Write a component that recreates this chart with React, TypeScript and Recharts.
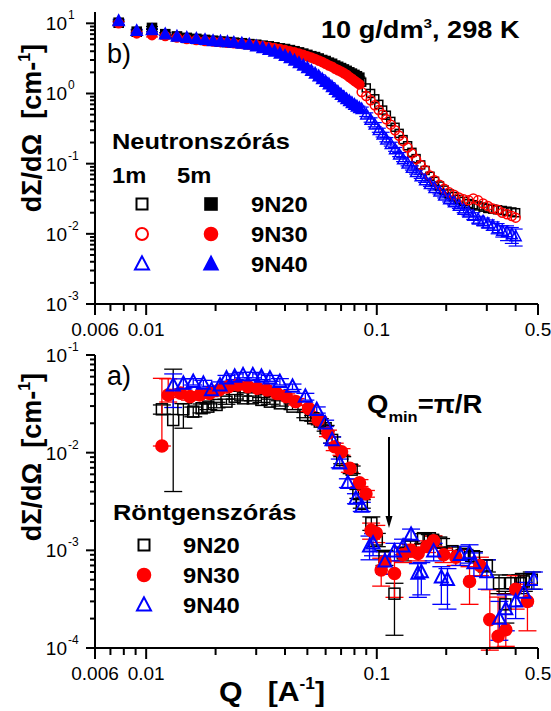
import React from 'react';
import { ScatterChart, Scatter, XAxis, YAxis, ErrorBar } from 'recharts';

const FONT = '"Liberation Sans", Arial, Helvetica, sans-serif';
const BLACK = '#000000';
const RED = '#ff0000';
const BLUE = '#0000ff';

// ---------- axis ticks ----------
const xMajor = [0.006, 0.01, 0.1, 0.5];
const xMajorLabels = ['0.006', '0.01', '0.1', '0.5'];
const xMinor = [0.007, 0.008, 0.009, 0.02, 0.03, 0.04, 0.05, 0.06, 0.07, 0.08, 0.09, 0.2, 0.3, 0.4];

const yTopMajor = [0.001, 0.01, 0.1, 1, 10];
const yTopExp = ['-3', '-2', '-1', '0', '1'];
const yTopMinor = [
  0.002, 0.003, 0.004, 0.005, 0.006, 0.007, 0.008, 0.009,
  0.02, 0.03, 0.04, 0.05, 0.06, 0.07, 0.08, 0.09,
  0.2, 0.3, 0.4, 0.5, 0.6, 0.7, 0.8, 0.9,
  2, 3, 4, 5, 6, 7, 8, 9,
];
const yBotMajor = [0.0001, 0.001, 0.01, 0.1];
const yBotExp = ['-4', '-3', '-2', '-1'];
const yBotMinor = [
  0.0002, 0.0003, 0.0004, 0.0005, 0.0006, 0.0007, 0.0008, 0.0009,
  0.002, 0.003, 0.004, 0.005, 0.006, 0.007, 0.008, 0.009,
  0.02, 0.03, 0.04, 0.05, 0.06, 0.07, 0.08, 0.09,
];

// ---------- b) neutron scattering ----------
const qN5m = [
  0.0076, 0.0091, 0.0106, 0.0121, 0.0136, 0.015, 0.0165, 0.018, 0.0195, 0.021,
  0.0225, 0.024, 0.026, 0.028, 0.03, 0.032, 0.034, 0.036, 0.038, 0.04,
  0.042, 0.044, 0.046, 0.048, 0.05, 0.052, 0.054, 0.056, 0.058, 0.06,
  0.062, 0.064, 0.066, 0.068, 0.07, 0.072, 0.074, 0.076, 0.078, 0.08,
  0.082, 0.084,
];
const n20_5m = [
  10.2, 7.6, 8.6, 7.0, 6.5, 6.2, 6.0, 5.8, 5.65, 5.5,
  5.4, 5.3, 5.2, 5.05, 4.95, 4.8, 4.7, 4.55, 4.4, 4.3,
  4.15, 4.0, 3.85, 3.7, 3.55, 3.4, 3.3, 3.15, 3.0, 2.9,
  2.75, 2.65, 2.5, 2.4, 2.3, 2.2, 2.1, 2.0, 1.92, 1.84,
  1.76, 1.68,
];
const n30_5m = [
  10.0, 7.2, 6.8, 6.6, 6.3, 6.0, 5.8, 5.6, 5.5, 5.4,
  5.3, 5.2, 5.1, 5.0, 4.9, 4.75, 4.6, 4.45, 4.3, 4.15,
  4.0, 3.85, 3.7, 3.55, 3.4, 3.25, 3.1, 2.95, 2.8, 2.65,
  2.5, 2.4, 2.25, 2.15, 2.05, 1.95, 1.85, 1.72, 1.62, 1.52,
  1.43, 1.35,
];
const n40_5m = [
  10.8, 7.8, 8.0, 7.0, 6.5, 6.2, 6.0, 5.8, 5.6, 5.5,
  5.4, 5.3, 5.15, 5.0, 4.7, 4.45, 4.2, 3.95, 3.7, 3.45,
  3.2, 2.95, 2.72, 2.5, 2.3, 2.1, 1.92, 1.76, 1.6, 1.47,
  1.35, 1.24, 1.13, 1.04, 0.96, 0.89, 0.83, 0.78, 0.73, 0.69,
  0.65, 0.62,
];
const n5mErr: [number, number][] = [
  [0.6, 0.6], [0.4, 0.4], [0.4, 0.4], [0.35, 0.35], [0.3, 0.3], [0.3, 0.3], [0.3, 0.3], [0.3, 0.3], [0.3, 0.3], [0.3, 0.3],
  [0.3, 0.3], [0.3, 0.3], [0.3, 0.3], [0.3, 0.3], [0.25, 0.25], [0.25, 0.25], [0.25, 0.25], [0.2, 0.2], [0.2, 0.2], [0.2, 0.2],
  [0.2, 0.2], [0.15, 0.15], [0.15, 0.15], [0.15, 0.15], [0.12, 0.12], [0.12, 0.12], [0.1, 0.1], [0.1, 0.1], [0.1, 0.1], [0.08, 0.08],
  [0.08, 0.08], [0.07, 0.07], [0.06, 0.06], [0.06, 0.06], [0.05, 0.05], [0.05, 0.05], [0.05, 0.05], [0.04, 0.04], [0.04, 0.04], [0.04, 0.04],
  [0.04, 0.04], [0.04, 0.04],
];

const qN1m = [
  0.086, 0.09, 0.094, 0.098, 0.102, 0.106, 0.11, 0.115, 0.12, 0.125,
  0.13, 0.136, 0.142, 0.148, 0.155, 0.162, 0.17, 0.178, 0.187, 0.196,
  0.206, 0.216, 0.227, 0.238, 0.25, 0.262, 0.275, 0.289, 0.303, 0.318,
  0.334, 0.35, 0.367, 0.385, 0.4,
];
const n20_1m = [
  1.45, 1.2, 1.0, 0.84, 0.7, 0.58, 0.49, 0.4, 0.33, 0.27,
  0.22, 0.18, 0.145, 0.118, 0.096, 0.08, 0.066, 0.056, 0.048, 0.042,
  0.037, 0.034, 0.031, 0.029, 0.027, 0.026, 0.025, 0.024, 0.023, 0.0225,
  0.022, 0.0215, 0.021, 0.0205, 0.02,
];
const n30_1m = [
  1.05, 0.92, 0.8, 0.68, 0.58, 0.5, 0.43, 0.36, 0.3, 0.25,
  0.21, 0.17, 0.14, 0.116, 0.096, 0.081, 0.068, 0.058, 0.05, 0.044,
  0.039, 0.036, 0.033, 0.031, 0.03, 0.032, 0.03, 0.027, 0.025, 0.023,
  0.022, 0.02, 0.019, 0.018, 0.017,
];
const n40_1m = [
  0.6, 0.5, 0.42, 0.36, 0.3, 0.26, 0.22, 0.19, 0.16, 0.135,
  0.115, 0.1, 0.087, 0.076, 0.066, 0.058, 0.051, 0.045, 0.04, 0.035,
  0.031, 0.028, 0.025, 0.022, 0.02, 0.018, 0.016, 0.015, 0.014, 0.013,
  0.012, 0.011, 0.0105, 0.0098, 0.0092,
];
const n40_1mErr: [number, number][] = [
  [0.04, 0.04], [0.03, 0.03], [0.03, 0.03], [0.025, 0.025], [0.02, 0.02], [0.02, 0.02], [0.015, 0.015], [0.012, 0.012], [0.01, 0.01], [0.009, 0.009],
  [0.008, 0.008], [0.007, 0.007], [0.006, 0.006], [0.005, 0.005], [0.0045, 0.0045], [0.004, 0.004], [0.0035, 0.0035], [0.003, 0.003], [0.003, 0.003], [0.0025, 0.0025],
  [0.0025, 0.0025], [0.0022, 0.0022], [0.002, 0.002], [0.002, 0.002], [0.002, 0.002], [0.002, 0.002], [0.0018, 0.0018], [0.0018, 0.0018], [0.0018, 0.0018], [0.0018, 0.0018],
  [0.002, 0.002], [0.002, 0.002], [0.0025, 0.0025], [0.0025, 0.0025], [0.0025, 0.0025],
];

// ---------- a) X-ray scattering ----------
const qX20 = [
  0.0117, 0.0131, 0.0145, 0.016, 0.0174, 0.0186, 0.0202, 0.0223, 0.0242, 0.0263,
  0.029, 0.0316, 0.0344, 0.038, 0.0431, 0.049, 0.053, 0.0566, 0.06, 0.064,
  0.0708, 0.0778, 0.0832, 0.0861, 0.0947, 0.1, 0.108, 0.1193, 0.1296, 0.14,
  0.1587, 0.1698, 0.1755, 0.19, 0.2128, 0.24, 0.2637, 0.3, 0.3388, 0.361,
  0.3815, 0.419, 0.434, 0.47,
];
const x20 = [
  0.0278, 0.0216, 0.0278, 0.0263, 0.0285, 0.0296, 0.0308, 0.0333, 0.0374, 0.036,
  0.036, 0.0347, 0.0333, 0.032, 0.0296, 0.0243, 0.0225, 0.0208, 0.0178, 0.0135,
  0.0084, 0.0067, 0.0038, 0.003, 0.0019, 0.00129, 0.00085, 0.00036, 0.00093, 0.0011,
  0.00133, 0.00133, 0.00128, 0.0012, 0.00098, 0.00092, 0.00087, 0.0007, 0.00046, 0.00028,
  0.00046, 0.00046, 0.00048, 0.0005,
];
const x20err: [number, number][] = [
  [0.003, 0.003], [0.0176, 0.05], [0.01, 0.004], [0.003, 0.003], [0.003, 0.003], [0.002, 0.002], [0.002, 0.002], [0.002, 0.002], [0.002, 0.002], [0.002, 0.002],
  [0.002, 0.002], [0.002, 0.002], [0.002, 0.002], [0.002, 0.002], [0.002, 0.002], [0.0015, 0.0015], [0.0015, 0.0015], [0.0015, 0.0015], [0.0012, 0.0012], [0.001, 0.001],
  [0.0007, 0.0007], [0.0006, 0.0006], [0.0004, 0.0004], [0.0003, 0.0003], [0.0003, 0.0003], [0.0002, 0.0002], [0.00015, 0.00015], [0.000225, 0.0001], [0.00015, 0.00015], [0.00015, 0.00015],
  [0.00015, 0.00015], [0.00012, 0.00012], [0.00012, 0.00012], [0.00012, 0.00012], [0.0001, 0.0001], [0.0001, 0.0001], [0.0001, 0.0001], [0.0001, 0.0001], [0.0001, 0.0001], [0.0001, 0.0001],
  [0.0001, 0.0001], [0.0001, 0.0001], [0.0001, 0.0001], [0.0001, 0.0001],
];

const qX30 = [
  0.0117, 0.01246, 0.0141, 0.0155, 0.0171, 0.0188, 0.0207, 0.0228, 0.025, 0.0276,
  0.0304, 0.0334, 0.0368, 0.0405, 0.0445, 0.0506, 0.0557, 0.0614, 0.0657, 0.0703,
  0.0764, 0.0841, 0.0897, 0.0945, 0.0995, 0.1045, 0.1085, 0.1193, 0.13, 0.14,
  0.1511, 0.165, 0.1764, 0.195, 0.22, 0.2524, 0.28, 0.309, 0.3357, 0.3625,
  0.4, 0.45,
];
const x30 = [
  0.0117, 0.039, 0.0407, 0.0375, 0.039, 0.0405, 0.0438, 0.0474, 0.0493, 0.0474,
  0.0456, 0.0438, 0.0405, 0.0375, 0.0333, 0.0284, 0.0216, 0.0158, 0.0115, 0.0102,
  0.0069, 0.0049, 0.0038, 0.0016, 0.0015, 0.00063, 0.00077, 0.00058, 0.0009, 0.001,
  0.00093, 0.0011, 0.00125, 0.0009, 0.00085, 0.00048, 0.0007, 0.000195, 0.000132, 0.000154,
  0.0004, 0.0003,
];
const x30err: [number, number][] = [
  [0, 0.046], [0.006, 0.018], [0.004, 0.004], [0.003, 0.003], [0.003, 0.003], [0.003, 0.003], [0.003, 0.003], [0.003, 0.003], [0.003, 0.003], [0.003, 0.003],
  [0.003, 0.003], [0.003, 0.003], [0.003, 0.003], [0.0025, 0.0025], [0.0025, 0.0025], [0.002, 0.002], [0.0015, 0.0015], [0.0012, 0.0012], [0.001, 0.001], [0.0008, 0.0008],
  [0.0006, 0.0006], [0.0004, 0.0004], [0.0003, 0.0003], [0.0003, 0.0003], [0.0003, 0.0003], [0.0002, 0.0002], [0.0002, 0.0002], [0.00025, 0.0002], [0.00015, 0.00015], [0.00015, 0.00015],
  [0.00015, 0.00015], [0.00015, 0.00015], [0.00015, 0.00015], [0.00015, 0.00015], [0.00015, 0.00015], [0.0002, 0.0002], [0.00015, 0.00015], [0.0001, 0.0002], [0.00003, 0.0002], [0.00005, 0.0002],
  [0.00015, 0.00015], [0.00015, 0.00015],
];

const qX40 = [
  0.0131, 0.0145, 0.016, 0.0177, 0.0192, 0.0209, 0.0223, 0.0242, 0.0263, 0.029,
  0.0316, 0.0344, 0.038, 0.0431, 0.049, 0.0549, 0.0597, 0.064, 0.0691, 0.0749,
  0.0812, 0.0861, 0.093, 0.0963, 0.1085, 0.1193, 0.13, 0.1408, 0.1507, 0.156,
  0.1764, 0.1905, 0.2025, 0.23, 0.2524, 0.2637, 0.3, 0.34, 0.3625, 0.4,
  0.434, 0.48,
];
const x40 = [
  0.049, 0.051, 0.0533, 0.051, 0.0438, 0.049, 0.0578, 0.06, 0.0624, 0.0624,
  0.06, 0.0578, 0.0533, 0.0474, 0.0375, 0.0274, 0.02, 0.0135, 0.0078, 0.0049,
  0.0034, 0.0028, 0.0011, 0.00118, 0.00077, 0.00098, 0.0011, 0.00145, 0.00058, 0.0006,
  0.00098, 0.00053, 0.0005, 0.0009, 0.00094, 0.00074, 0.0006, 0.0002, 0.00025, 0.0003,
  0.00037, 0.0005,
];
const x40err: [number, number][] = [
  [0.02, 0.015], [0.006, 0.006], [0.004, 0.004], [0.004, 0.004], [0.004, 0.004], [0.004, 0.004], [0.004, 0.004], [0.004, 0.004], [0.004, 0.004], [0.004, 0.004],
  [0.004, 0.004], [0.004, 0.004], [0.004, 0.004], [0.003, 0.003], [0.003, 0.003], [0.002, 0.002], [0.0015, 0.0015], [0.001, 0.001], [0.0008, 0.0008], [0.0005, 0.0005],
  [0.0004, 0.0004], [0.0003, 0.0003], [0.0003, 0.0003], [0.0003, 0.0003], [0.0002, 0.0002], [0.0002, 0.0002], [0.0002, 0.0002], [0.0002, 0.0002], [0.00025, 0.00015], [0.00025, 0.00015],
  [0.0002, 0.0002], [0.00025, 0.00015], [0.00025, 0.00015], [0.0002, 0.0002], [0.0002, 0.0002], [0.0002, 0.0002], [0.0002, 0.0002], [0.00008, 0.0001], [0.0001, 0.0001], [0.0001, 0.0001],
  [0.0001, 0.0001], [0.0001, 0.0001],
];

type Pt = { q: number; v: number; e?: [number, number] };
const pts = (q: number[], v: number[], e?: [number, number][]): Pt[] =>
  q.map((x, i) => ({ q: x, v: v[i], e: e ? e[i] : undefined }));

// ---------- markers ----------
type MP = { cx: number; cy: number; s: number; color: string; filled: boolean; sw?: number };
const Square = ({ cx, cy, s, color, filled, sw = 1.6 }: MP) => (
  <rect x={cx - s / 2} y={cy - s / 2} width={s} height={s} fill={filled ? color : 'none'} stroke={color} strokeWidth={sw} />
);
const Circle = ({ cx, cy, s, color, filled, sw = 1.6 }: MP) => (
  <circle cx={cx} cy={cy} r={s / 2} fill={filled ? color : 'none'} stroke={color} strokeWidth={sw} />
);
const Triangle = ({ cx, cy, s, color, filled, sw = 1.6 }: MP) => (
  <polygon
    points={`${cx},${cy - s * 0.55} ${cx - s / 2},${cy + s * 0.4} ${cx + s / 2},${cy + s * 0.4}`}
    fill={filled ? color : 'none'}
    stroke={color}
    strokeWidth={sw}
  />
);

const shapeOf = (Comp: any, s: number, color: string, filled: boolean, sw?: number) => (p: any) =>
  p.cx == null || p.cy == null ? <g /> : <Comp cx={p.cx} cy={p.cy} s={s} color={color} filled={filled} sw={sw} />;

// ---------- ticks ----------
function XTick(props: any) {
  const { x, y, payload } = props;
  const i = xMajor.indexOf(payload.value);
  const major = i >= 0;
  return (
    <g>
      <line x1={x} x2={x} y1={y} y2={y + (major ? 11 : 7)} stroke="#000" strokeWidth={2} />
      {major && (
        <text x={x} y={y + 32} textAnchor="middle" fontFamily={FONT} fontSize={19} fill="#000">
          {xMajorLabels[i]}
        </text>
      )}
    </g>
  );
}
const makeYTick = (major: number[], exps: string[]) => (props: any) => {
  const { x, y, payload } = props;
  const i = major.indexOf(payload.value);
  const isMajor = i >= 0;
  return (
    <g>
      <line x1={x - (isMajor ? 9 : 5)} x2={x} y1={y} y2={y} stroke="#000" strokeWidth={2} />
      {isMajor && (
        <text x={x - 28} y={y + 7} textAnchor="end" fontFamily={FONT} fontSize={19} fill="#000">
          10
        </text>
      )}
      {isMajor && (
        <text x={x - 27} y={y - 4} textAnchor="start" fontFamily={FONT} fontSize={12} fill="#000">
          {exps[i]}
        </text>
      )}
    </g>
  );
};
const YTickTop = makeYTick(yTopMajor, yTopExp);
const YTickBot = makeYTick(yBotMajor, yBotExp);

const axisLine = { stroke: '#000', strokeWidth: 2 };

// horizontally stretched bold text (the original lettering is wide)
const Wide = ({ x, y, sx, size, children }: { x: number; y: number; sx: number; size: number; children: any }) => (
  <g transform={`translate(${x},${y}) scale(${sx},1)`}>
    <text x={0} y={0} fontSize={size} fontWeight="bold" fill="#000" style={{ whiteSpace: 'pre' }}>
      {children}
    </text>
  </g>
);

export default function App() {
  const xTicks = [...xMajor, ...xMinor];
  return (
    <div style={{ position: 'absolute', left: 0, top: 0, width: 551, height: 711, background: '#fff', overflow: 'hidden' }}>
      {/* panel b) */}
      <div style={{ position: 'absolute', left: 0, top: 0 }}>
        <ScatterChart width={551} height={340} margin={{ top: 12, right: 13, bottom: 0, left: 0 }}>
          <XAxis
            type="number" dataKey="q" scale="log" domain={[0.006, 0.5]} allowDataOverflow
            ticks={xTicks} interval={0} tick={XTick} tickLine={false} tickSize={0} tickMargin={0}
            height={36} axisLine={axisLine}
          />
          <YAxis
            type="number" dataKey="v" scale="log" domain={[0.001, 14.5]} allowDataOverflow
            ticks={[...yTopMajor, ...yTopMinor]} interval={0} tick={YTickTop} tickLine={false} tickSize={0} tickMargin={0}
            width={95} axisLine={axisLine}
          />
          <Scatter data={pts(qN5m, n20_5m, n5mErr)} shape={shapeOf(Square, 9, BLACK, true)} isAnimationActive={false}>
            <ErrorBar dataKey="e" direction="y" width={6} stroke={BLACK} strokeWidth={1.2} />
          </Scatter>
          <Scatter data={pts(qN1m, n20_1m)} shape={shapeOf(Square, 8, BLACK, false, 1.5)} isAnimationActive={false} />
          <Scatter data={pts(qN5m, n30_5m, n5mErr)} shape={shapeOf(Circle, 9, RED, true)} isAnimationActive={false}>
            <ErrorBar dataKey="e" direction="y" width={6} stroke={RED} strokeWidth={1.2} />
          </Scatter>
          <Scatter data={pts(qN1m, n30_1m)} shape={shapeOf(Circle, 9, RED, false, 1.5)} isAnimationActive={false} />
          <Scatter data={pts(qN5m, n40_5m, n5mErr)} shape={shapeOf(Triangle, 11, BLUE, true)} isAnimationActive={false}>
            <ErrorBar dataKey="e" direction="y" width={6} stroke={BLUE} strokeWidth={1.2} />
          </Scatter>
          <Scatter data={pts(qN1m, n40_1m, n40_1mErr)} shape={shapeOf(Triangle, 11, BLUE, false, 1.5)} isAnimationActive={false}>
            <ErrorBar dataKey="e" direction="y" width={7} stroke={BLUE} strokeWidth={1.2} />
          </Scatter>
        </ScatterChart>
      </div>

      {/* panel a) */}
      <div style={{ position: 'absolute', left: 0, top: 340 }}>
        <ScatterChart width={551} height={371} margin={{ top: 15, right: 13, bottom: 0, left: 0 }}>
          <XAxis
            type="number" dataKey="q" scale="log" domain={[0.006, 0.5]} allowDataOverflow
            ticks={xTicks} interval={0} tick={XTick} tickLine={false} tickSize={0} tickMargin={0}
            height={63} axisLine={axisLine}
          />
          <YAxis
            type="number" dataKey="v" scale="log" domain={[0.0001, 0.1]} allowDataOverflow
            ticks={[...yBotMajor, ...yBotMinor]} interval={0} tick={YTickBot} tickLine={false} tickSize={0} tickMargin={0}
            width={95} axisLine={axisLine}
          />
          <Scatter data={pts(qX20, x20, x20err)} shape={shapeOf(Square, 11, BLACK, false, 1.5)} isAnimationActive={false}>
            <ErrorBar dataKey="e" direction="y" width={9} stroke={BLACK} strokeWidth={1.3} />
          </Scatter>
          <Scatter data={pts(qX30, x30, x30err)} shape={shapeOf(Circle, 12, RED, true)} isAnimationActive={false}>
            <ErrorBar dataKey="e" direction="y" width={9} stroke={RED} strokeWidth={1.3} />
          </Scatter>
          <Scatter data={pts(qX40, x40, x40err)} shape={shapeOf(Triangle, 13, BLUE, false, 2)} isAnimationActive={false}>
            <ErrorBar dataKey="e" direction="y" width={9} stroke={BLUE} strokeWidth={1.3} />
          </Scatter>
        </ScatterChart>
      </div>

      {/* annotations & legends */}
      <svg width={551} height={711} style={{ position: 'absolute', left: 0, top: 0, pointerEvents: 'none' }} fontFamily={FONT}>
        {/* top-right condition */}
        <Wide x={321} y={38} sx={1.18} size={23}>
          10 g/dm<tspan dy={-10} fontSize={13}>3</tspan>
          <tspan dy={10}>, 298 K</tspan>
        </Wide>
        {/* panel letters */}
        <text x={107} y={63} fontSize={27} fill="#000">b)</text>
        <text x={107} y={385} fontSize={27} fill="#000">a)</text>

        {/* y axis titles */}
        <text transform="translate(41,128) rotate(-90)" textAnchor="middle" fontSize={27} fontWeight="bold" fill="#000" style={{ whiteSpace: 'pre' }}>
          dΣ/dΩ  [cm-<tspan dy={-11} fontSize={16}>1</tspan><tspan dy={11}>]</tspan>
        </text>
        <text transform="translate(41,457) rotate(-90)" textAnchor="middle" fontSize={27} fontWeight="bold" fill="#000" style={{ whiteSpace: 'pre' }}>
          dΣ/dΩ  [cm-<tspan dy={-11} fontSize={16}>1</tspan><tspan dy={11}>]</tspan>
        </text>
        {/* x axis title */}
        <Wide x={219} y={701} sx={1.08} size={28}>
          Q   [A<tspan dy={-12} fontSize={16}>-1</tspan><tspan dy={12}>]</tspan>
        </Wide>

        {/* neutron legend */}
        <Wide x={112} y={149} sx={1.155} size={22}>Neutronszórás</Wide>
        <Wide x={112} y={183} sx={1.08} size={22}>1m</Wide>
        <Wide x={177} y={183} sx={1.08} size={22}>5m</Wide>
        <Square cx={142} cy={204} s={11} color={BLACK} filled={false} sw={2} />
        <Square cx={211} cy={204} s={12} color={BLACK} filled={true} />
        <Wide x={251} y={212} sx={1.08} size={22}>9N20</Wide>
        <Circle cx={142} cy={234} s={12} color={RED} filled={false} sw={2} />
        <Circle cx={211} cy={234} s={13} color={RED} filled={true} />
        <Wide x={251} y={242} sx={1.08} size={22}>9N30</Wide>
        <Triangle cx={142} cy={264} s={14} color={BLUE} filled={false} sw={2} />
        <Triangle cx={211} cy={264} s={14} color={BLUE} filled={true} />
        <Wide x={251} y={272} sx={1.08} size={22}>9N40</Wide>

        {/* x-ray legend */}
        <Wide x={113} y={520} sx={1.155} size={22}>Röntgenszórás</Wide>
        <Square cx={144} cy={545} s={11} color={BLACK} filled={false} sw={2} />
        <Wide x={183} y={553} sx={1.08} size={22}>9N20</Wide>
        <Circle cx={144} cy={575} s={13} color={RED} filled={true} />
        <Wide x={183} y={583} sx={1.08} size={22}>9N30</Wide>
        <Triangle cx={144} cy={605} s={14} color={BLUE} filled={false} sw={2} />
        <Wide x={183} y={613} sx={1.08} size={22}>9N40</Wide>

        {/* Qmin annotation */}
        <Wide x={367} y={413} sx={1.1} size={25}>
          Q<tspan dy={9} fontSize={15}>min</tspan>
          <tspan dy={-9}>=π/R</tspan>
        </Wide>
        <line x1={389} x2={389} y1={437} y2={519} stroke="#000" strokeWidth={2} />
        <polygon points="389,528 385.5,516 392.5,516" fill="#000" />
      </svg>
    </div>
  );
}
